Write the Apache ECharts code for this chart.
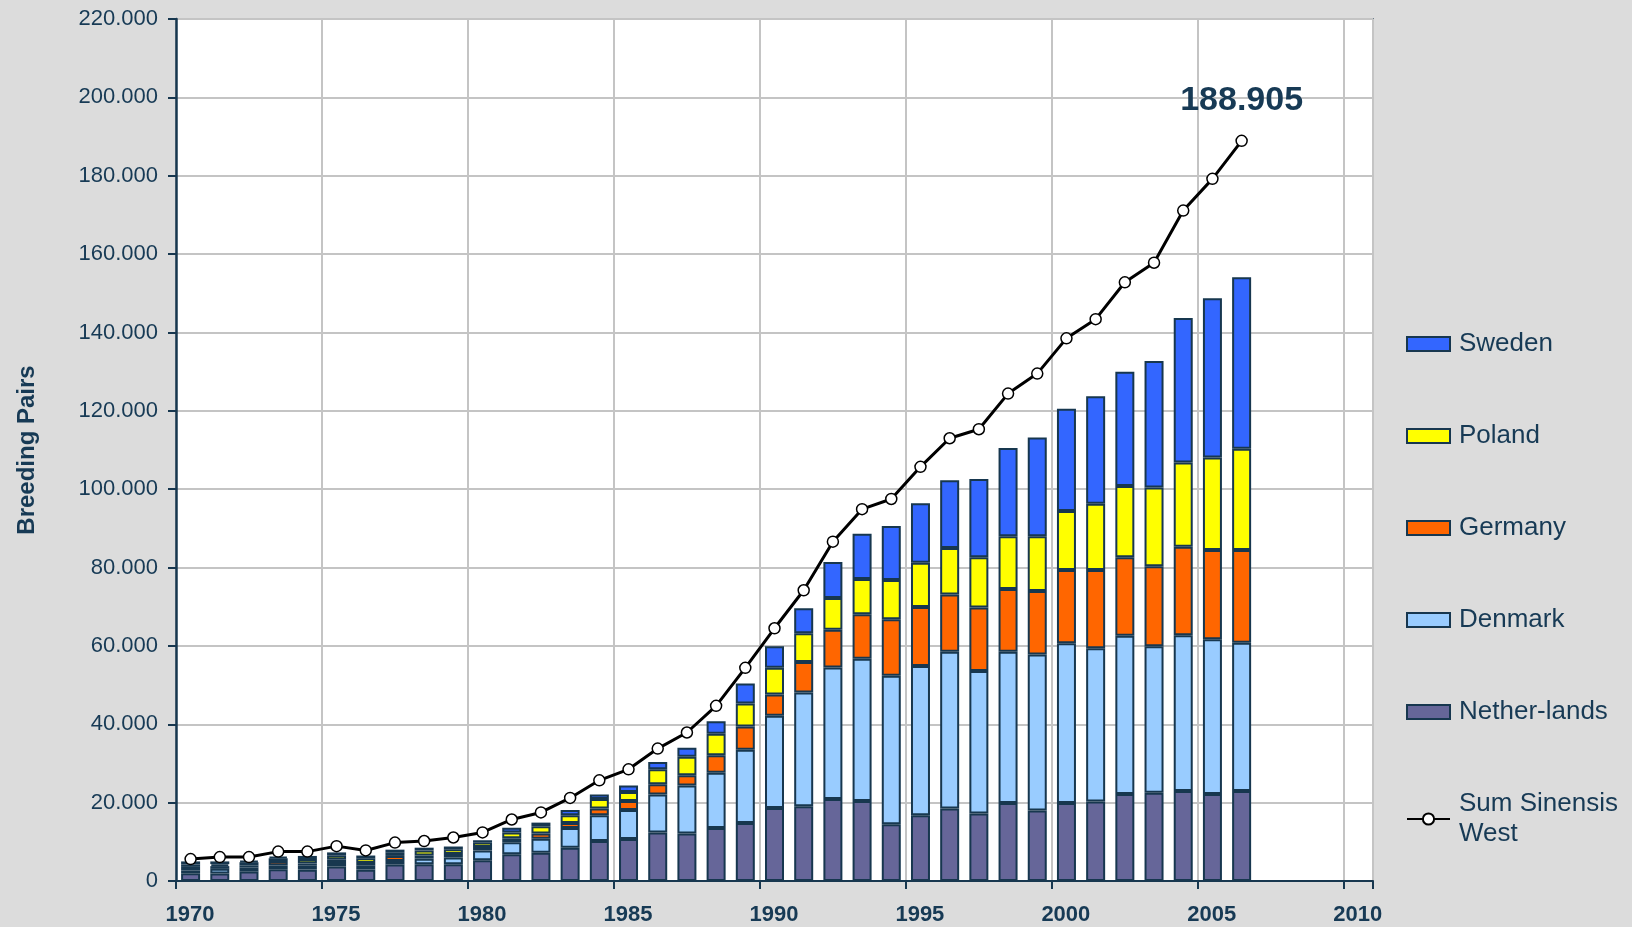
<!DOCTYPE html>
<html>
<head>
<meta charset="utf-8">
<script src="https://cdn.jsdelivr.net/npm/echarts@6/dist/echarts.min.js"></script>
<style>
  html, body { margin: 0; padding: 0; background: #dcdcdc; }
  #main { width: 1632px; height: 927px; }
</style>
</head>
<body>
<div id="main"></div>
<script>
// breeding pairs per year
const years = [
  1970, 1971, 1972, 1973, 1974, 1975, 1976, 1977, 1978, 1979,
  1980, 1981, 1982, 1983, 1984, 1985, 1986, 1987, 1988, 1989,
  1990, 1991, 1992, 1993, 1994, 1995, 1996, 1997, 1998, 1999,
  2000, 2001, 2002, 2003, 2004, 2005, 2006
];
const netherlands = [
  2000, 1900, 2400, 3000, 2900, 3700, 2900, 4200, 4300, 4300,
  5300, 6800, 7200, 8500, 10200, 10700, 12400, 12100, 13500, 14800,
  18600, 19100, 20900, 20400, 14500, 16800, 18500, 17200, 19900, 18000,
  19900, 20300, 22200, 22500, 23000, 22200, 23000
];
const denmark = [
  700, 1200, 1000, 1000, 1000, 900, 1000, 900, 1400, 1700,
  2500, 3100, 3600, 5000, 6600, 7400, 9700, 12300, 14100, 18700,
  23600, 29000, 33600, 36300, 37900, 38100, 40000, 36400, 38600, 39800,
  40800, 39100, 40400, 37400, 39700, 39500, 37800
];
const germany = [
  900, 700, 600, 1100, 600, 900, 700, 1300, 800, 900,
  900, 1000, 1300, 1300, 1700, 2300, 2600, 2600, 4500, 5900,
  5400, 7800, 9600, 11400, 14400, 15000, 14600, 16200, 16000, 16200,
  18700, 20000, 20000, 20400, 22600, 22800, 23700
];
const poland = [
  600, 500, 800, 700, 1100, 1100, 1200, 800, 1300, 1200,
  1100, 1500, 1900, 2000, 2400, 2300, 3800, 4700, 5500, 5900,
  6800, 7300, 8100, 9000, 10000, 11300, 11900, 12800, 13500, 14000,
  15000, 16900, 18200, 20100, 21500, 23600, 25800
];
const sweden = [
  800, 700, 300, 400, 800, 700, 700, 800, 700, 700,
  600, 1200, 900, 1300, 1200, 1700, 1900, 2300, 3200, 5100,
  5500, 6400, 9200, 11500, 13800, 15200, 17300, 20000, 22500, 25200,
  26100, 27400, 29200, 32300, 36900, 40600, 43800
];
const sumWest = [
  5600, 6100, 6100, 7500, 7500, 8900, 7800, 9800, 10200, 11100,
  12400, 15700, 17500, 21200, 25700, 28500, 33800, 37900, 44700, 54400,
  64500, 74200, 86600, 94900, 97500, 105700, 113000, 115300, 124400, 129500,
  138500, 143400, 152800, 157800, 171100, 179200, 188905
];

// the time axis runs 1970..2011, one band per year
const yearBands = [];
for (let y = 1970; y <= 2010; y++) yearBands.push(String(y));

const navy = '#173a55';
const edge = '#17374f';
const font = '"Liberation Sans", Arial, sans-serif';

// thousands with a dot, as in the original
function fmt(v) {
  return String(v).replace(/\B(?=(\d{3})+(?!\d))/g, '.');
}

function barSeries(name, arr, color) {
  return {
    name: name,
    type: 'bar',
    stack: 'pairs',
    xAxisIndex: 1,
    barWidth: 19,
    data: arr,
    itemStyle: { color: color, borderColor: edge, borderWidth: 2 }
  };
}

const lineData = sumWest.slice();
const last = lineData.length - 1;
lineData[last] = {
  value: sumWest[last],
  label: {
    show: true,
    position: 'top',
    distance: 17,
    formatter: p => fmt(p.value),
    fontFamily: font,
    fontWeight: 'bold',
    fontSize: 34,
    color: navy
  }
};

const barIcon = name => ({ name: name, icon: 'rect' });

const option = {
  backgroundColor: '#dcdcdc',
  animation: false,
  textStyle: { fontFamily: font },
  grid: {
    left: 176, right: 259, top: 19, bottom: 46,
    show: true,
    backgroundColor: '#ffffff',
    borderColor: edge,
    borderWidth: 1.5
  },
  legend: {
    orient: 'vertical',
    left: 1406,
    top: 329,
    padding: 0,
    itemWidth: 43,
    itemHeight: 14,
    itemGap: 62,
    data: [
      barIcon('Sweden'), barIcon('Poland'), barIcon('Germany'),
      barIcon('Denmark'), barIcon('Nether-lands'), { name: 'Sum Sinensis West' }
    ],
    formatter: n => n === 'Sum Sinensis West' ? 'Sum Sinensis\nWest' : n,
    textStyle: { color: navy, fontSize: 26, fontFamily: font, lineHeight: 30, padding: [0, 0, 0, 4] }
  },
  xAxis: [
    {
      type: 'value',
      min: 1970,
      max: 2011,
      interval: 5,
      axisLine: { show: true, lineStyle: { color: edge, width: 2 } },
      axisTick: { show: true, length: 8, lineStyle: { color: edge, width: 2 } },
      axisLabel: {
        margin: 23,
        padding: [0, 0, 0, 28],
        color: navy,
        fontSize: 22,
        fontWeight: 'bold',
        fontFamily: font,
        formatter: v => (v % 5 === 0 ? String(v) : '')
      },
      splitLine: { show: true, lineStyle: { color: '#c4c4c4', width: 2 } }
    },
    {
      type: 'category',
      data: yearBands,
      boundaryGap: true,
      show: false
    }
  ],
  yAxis: {
    type: 'value',
    min: 0,
    max: 220000,
    interval: 20000,
    name: 'Breeding Pairs',
    nameLocation: 'middle',
    nameRotate: 90,
    nameGap: 137,
    nameTextStyle: { color: navy, fontSize: 24, fontWeight: 'bold', fontFamily: font },
    axisLine: { show: true, lineStyle: { color: edge, width: 2.5 } },
    axisTick: { show: true, length: 8, lineStyle: { color: edge, width: 2 } },
    axisLabel: {
      margin: 18,
      color: navy,
      fontSize: 22,
      fontFamily: font,
      formatter: v => fmt(v)
    },
    splitLine: { show: true, lineStyle: { color: '#c4c4c4', width: 2 } }
  },
  series: [
    barSeries('Nether-lands', netherlands, '#666699'),
    barSeries('Denmark', denmark, '#99ccff'),
    barSeries('Germany', germany, '#ff6600'),
    barSeries('Poland', poland, '#ffff00'),
    barSeries('Sweden', sweden, '#3366ff'),
    {
      name: 'Sum Sinensis West',
      type: 'line',
      xAxisIndex: 1,
      data: lineData,
      z: 5,
      symbol: 'circle',
      symbolSize: 11,
      lineStyle: { color: '#000000', width: 3 },
      itemStyle: { color: '#ffffff', borderColor: '#000000', borderWidth: 1.5 }
    }
  ]
};

const chart = echarts.init(document.getElementById('main'));
chart.setOption(option);
</script>
</body>
</html>
